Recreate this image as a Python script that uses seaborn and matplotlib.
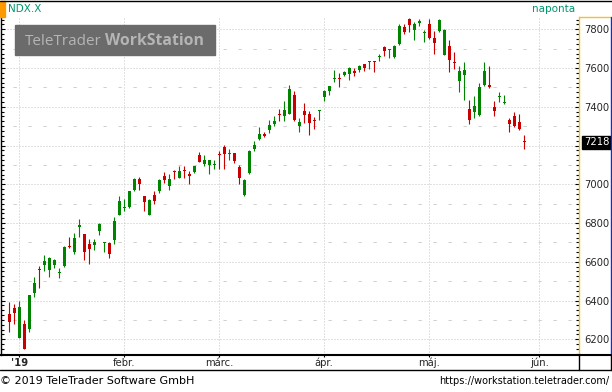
import matplotlib
matplotlib.use("Agg")
import matplotlib.pyplot as plt
import numpy as np
import pandas as pd
import seaborn as sns
from matplotlib.lines import Line2D
from matplotlib.patches import Rectangle
from matplotlib.ticker import MultipleLocator
from matplotlib.transforms import blended_transform_factory

sns.set_theme(style="white")
plt.rcParams["font.family"] = ["DejaVu Sans"]

TICKER = "NDX.X"
INTERVAL = "naponta"
LAST_PRICE = 7218

# daily OHLC, 2018-12-28 .. 2019-05-29
opens = [6329, 6360, 6205, 6277, 6252, 6437, 6563, 6581, 6557, 6583,
         6542, 6580, 6680, 6652, 6779, 6741, 6693, 6686, 6758, 6696,
         6698, 6712, 6844, 6877, 6882, 6973, 7025, 6939, 6844, 6944,
         6963, 7042, 6990, 7071, 7034, 7073, 7054, 7063, 7149, 7104,
         7099, 7100, 7156, 7191, 7155, 7159, 7090, 6944, 7056, 7180,
         7236, 7262, 7279, 7313, 7362, 7351, 7361, 7463, 7303, 7380,
         7365, 7331, 7378, 7451, 7480, 7541, 7545, 7566, 7569, 7581,
         7588, 7623, 7629, 7635, 7655, 7709, 7693, 7659, 7726, 7811,
         7853, 7795, 7832, 7779, 7829, 7755, 7789, 7666, 7716, 7628,
         7532, 7562, 7391, 7371, 7360, 7515, 7515, 7397, 7449, 7418,
         7334, 7355, 7324, 7221]
highs = [6392, 6380, 6396, 6298, 6427, 6523, 6578, 6635, 6627, 6612,
         6570, 6681, 6727, 6750, 6820, 6745, 6716, 6716, 6801, 6703,
         6703, 6829, 6939, 6926, 6968, 7035, 7040, 6939, 6922, 6963,
         7025, 7066, 7051, 7076, 7093, 7097, 7068, 7097, 7166, 7149,
         7128, 7128, 7171, 7205, 7180, 7162, 7102, 7025, 7176, 7221,
         7296, 7272, 7334, 7351, 7391, 7428, 7511, 7484, 7343, 7420,
         7377, 7348, 7386, 7489, 7509, 7592, 7574, 7587, 7606, 7600,
         7618, 7623, 7638, 7638, 7674, 7716, 7700, 7719, 7825, 7829,
         7858, 7836, 7855, 7798, 7855, 7793, 7855, 7801, 7747, 7681,
         7609, 7630, 7437, 7454, 7523, 7630, 7609, 7428, 7475, 7463,
         7343, 7375, 7365, 7257]
lows = [6237, 6281, 6205, 6148, 6238, 6418, 6463, 6552, 6521, 6569,
        6516, 6575, 6669, 6641, 6727, 6607, 6587, 6660, 6736, 6650,
        6619, 6690, 6839, 6860, 6877, 6968, 6973, 6862, 6841, 6896,
        6954, 7009, 6973, 7025, 7030, 7030, 7004, 7059, 7114, 7094,
        7051, 7080, 7078, 7080, 7123, 7111, 7004, 6939, 7051, 7171,
        7231, 7245, 7265, 7300, 7325, 7325, 7361, 7325, 7269, 7317,
        7257, 7283, 7334, 7428, 7463, 7527, 7500, 7557, 7540, 7561,
        7578, 7583, 7597, 7582, 7635, 7664, 7650, 7654, 7721, 7776,
        7784, 7747, 7816, 7734, 7752, 7674, 7784, 7666, 7578, 7597,
        7476, 7434, 7310, 7341, 7355, 7506, 7497, 7355, 7423, 7414,
        7269, 7295, 7279, 7183]
closes = [6289, 6334, 6365, 6148, 6427, 6492, 6559, 6602, 6621, 6607,
          6546, 6674, 6676, 6721, 6788, 6650, 6667, 6703, 6793, 6700,
          6641, 6813, 6913, 6881, 6963, 7025, 6999, 6908, 6917, 6913,
          7020, 7020, 7025, 7063, 7071, 7069, 7042, 7094, 7116, 7128,
          7123, 7104, 7152, 7157, 7159, 7119, 7030, 7020, 7172, 7205,
          7262, 7248, 7308, 7329, 7358, 7386, 7494, 7331, 7320, 7356,
          7317, 7327, 7382, 7484, 7506, 7545, 7541, 7582, 7600, 7577,
          7612, 7599, 7633, 7631, 7659, 7686, 7697, 7716, 7815, 7788,
          7820, 7829, 7841, 7783, 7755, 7727, 7850, 7798, 7643, 7624,
          7587, 7592, 7331, 7406, 7504, 7583, 7502, 7380, 7453, 7422,
          7313, 7303, 7286, 7218]

month_labels = ["'19", "febr.", "márc.", "ápr.", "máj.", "jún."]
price_ticks = [6200, 6400, 6600, 6800, 7000, 7200, 7400, 7600, 7800]
holidays = ["2019-01-01", "2019-01-21", "2019-02-18", "2019-04-19", "2019-05-27"]

UP = "#008400"
DOWN = "#c80000"
GRID = "#c4c4c4"

# trading calendar (runs a few days past the data so the June gridline has a slot)
days = pd.bdate_range("2018-12-28", "2019-06-03", freq="C", holidays=holidays)
df = pd.DataFrame({"open": opens, "high": highs, "low": lows, "close": closes})
df["date"] = days[:len(df)]
df["x"] = np.arange(len(df))
df["color"] = np.where(df["close"] >= df["open"], UP, DOWN)

cal = pd.Series(np.arange(len(days)), index=days)
cal = cal[cal.index >= "2019-01-01"]
month_pos = cal.groupby(cal.index.to_period("M")).first().values

W, H = 612, 392
fig = plt.figure(figsize=(W / 100, H / 100), dpi=100)
fig.patch.set_facecolor("white")


def fx(px):
    return px / W


def fy(py):
    return 1 - py / H


L_PX, R_PX, T_PX, B_PX = 1, 579, 17, 355
STRIP_PX = 369.5
ax = fig.add_axes([fx(L_PX), fy(B_PX), fx(R_PX) - fx(L_PX), fy(T_PX) - fy(B_PX)])
ax.set_facecolor("white")

# candle slot i sits at pixel 9.3 + 5 * i
ax.set_xlim((L_PX - 9.3) / 5, (R_PX - 9.3) / 5)
ax.set_ylim(6119, 7863.5)

# grid
for v in range(6200, 7801, 200):
    ax.axhline(v, color=GRID, lw=0.72, ls=(0, (1, 2)), zorder=0)
for v in range(6300, 7801, 200):
    ax.axhline(v, color="#d0d0d0", lw=0.72, ls=(3, (3.3, 11.7)), zorder=0)
for xp in month_pos:
    ax.axvline(xp, color=GRID, lw=0.72, ls=(0, (1, 2)), zorder=0)

# candles
ax.vlines(df["x"], df["low"], df["high"], colors=df["color"], lw=0.8, zorder=2)
body_lo = df[["open", "close"]].min(axis=1)
body_h = (df["close"] - df["open"]).abs().clip(lower=5.5)
ax.bar(df["x"], body_h, bottom=body_lo, width=0.62, color=df["color"],
       linewidth=0, zorder=3)

# axes frame
ax.spines["top"].set_visible(False)
ax.spines["left"].set_color("black")
ax.spines["left"].set_linewidth(1.0)
ax.spines["bottom"].set_color("black")
ax.spines["bottom"].set_linewidth(1.5)
ax.spines["right"].set_color("#f2c030")
ax.spines["right"].set_linewidth(1.0)

ax.yaxis.set_minor_locator(MultipleLocator(25))
ax.set_yticks(price_ticks)
# the 7200 label sits under the last-price box
ax.set_yticklabels(["" if t == 7200 else str(t) for t in price_ticks])
ax.tick_params(axis="y", which="both", left=True, right=True, labelleft=False,
               labelright=True, direction="in", color="black", width=0.8,
               labelsize=7.2, pad=3.5)
ax.tick_params(axis="y", which="major", length=3)
ax.tick_params(axis="y", which="minor", length=2)

ax.set_xticks(month_pos)
ax.set_xticklabels(month_labels)
ax.tick_params(axis="x", which="major", bottom=True, direction="out", length=1.5,
               width=0.8, color="black", labelsize=7.2, pad=0.5)
ax.get_xticklabels()[0].set_fontweight("bold")
ax.set_xlabel("")
ax.set_ylabel("")
ax.grid(False)

# last price marker on the price scale
ax.annotate(f"{LAST_PRICE}", xy=(1, LAST_PRICE),
            xycoords=blended_transform_factory(ax.transAxes, ax.transData),
            xytext=(3.5, 0), textcoords="offset points", ha="left", va="center",
            color="white", fontsize=7.2, annotation_clip=False, zorder=10,
            bbox=dict(boxstyle="square,pad=0.15", fc="black", ec="black"))

# header
fig.add_artist(Line2D([0, 1], [fy(0.5), fy(0.5)], color="black", lw=1))
fig.add_artist(Rectangle((0, fy(17)), fx(5), fy(1) - fy(17), color="#ff9900"))
fig.text(fx(8), fy(9), TICKER, color="#00966e", fontsize=7.5, va="center", ha="left")
fig.text(fx(575), fy(9), INTERVAL, color="#00966e", fontsize=7.5, va="center", ha="right")

# price scale panel borders
fig.add_artist(Line2D([fx(R_PX), fx(611)], [fy(17), fy(17)], color="#f2c030", lw=1))
fig.add_artist(Line2D([fx(610.5), fx(610.5)], [fy(17), fy(B_PX)], color="#1030c0", lw=1))

# date strip borders
fig.add_artist(Line2D([0, 1], [fy(STRIP_PX), fy(STRIP_PX)], color="black", lw=1))
fig.add_artist(Line2D([fx(R_PX), fx(R_PX)], [fy(B_PX), fy(STRIP_PX)], color="black", lw=1))
fig.add_artist(Line2D([fx(611), fx(611)], [fy(B_PX), fy(STRIP_PX)], color="black", lw=1))
fig.add_artist(Line2D([fx(R_PX), fx(611)], [fy(B_PX), fy(B_PX)], color="black", lw=1.5))

# watermark
fig.add_artist(Rectangle((fx(15), fy(55)), fx(215) - fx(15), fy(25) - fy(55),
                         color="#6b6b6b", zorder=5))
fig.text(fx(25), fy(45), "TeleTrader", color="#b5b5b5", fontsize=11,
         family="Open Sans", ha="left", va="baseline", zorder=6)
fig.text(fx(105), fy(45), "WorkStation", color="#b5b5b5", fontsize=11.3,
         family="Open Sans", fontweight="bold", ha="left", va="baseline", zorder=6)

# footer
fig.text(fx(0), fy(381), "\u00a9 2019 TeleTrader Software GmbH", fontsize=8,
         va="center", ha="left", color="black")
fig.text(fx(609), fy(381), "https://workstation.teletrader.com/", fontsize=7,
         va="center", ha="right", color="black")

fig.savefig("out.png", dpi=100, facecolor="white")
